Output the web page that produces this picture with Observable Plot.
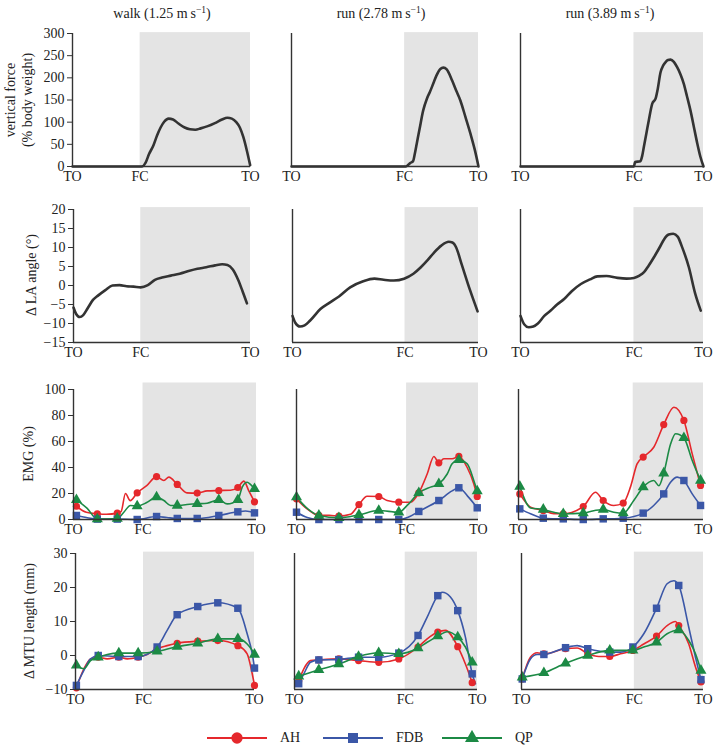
<!DOCTYPE html>
<html><head><meta charset="utf-8">
<script src="https://cdn.jsdelivr.net/npm/d3@7"></script>
<script src="https://cdn.jsdelivr.net/npm/@observablehq/plot@0.6"></script>
<style>
body{margin:0;background:#fff;}
#wrap{position:relative;width:715px;height:747px;font-family:"Liberation Serif","Times New Roman",serif;color:#222;overflow:hidden;}
.title{position:absolute;top:5px;font-size:14px;line-height:18px;transform:translateX(-50%);white-space:nowrap;}
.title sup{font-size:9.5px;vertical-align:5px;line-height:0;}
.ylab{position:absolute;font-size:14px;line-height:17px;transform:translate(-50%,-50%) rotate(-90deg);white-space:nowrap;text-align:center;}
.leg{position:absolute;top:729px;height:18px;display:flex;align-items:center;font-size:14px;}
.leg svg{margin-right:13px;}
</style></head>
<body><div id="wrap"></div>
<script>
// ---------- categories & labels ----------
const conditions = ["walk", "run", "run"];
const speeds = ["1.25", "2.78", "3.89"];
const fcPct = [38, 60.5, 62];                // foot contact, % of cycle
const xTickLabels = ["TO", "FC", "TO"];
const rowLabels = [["vertical force", "(% body weight)"], ["Δ LA angle (°)"], ["EMG (%)"], ["Δ MTU length (mm)"]];
const muscles = ["AH", "FDB", "QP"];
const forceTicks = [0, 50, 100, 150, 200, 250, 300];
const laTicks = [-15, -10, -5, 0, 5, 10, 15, 20];
const emgTicks = [0, 20, 40, 60, 80, 100];
const mtuTicks = [-10, 0, 10, 20, 30];

// ---------- vertical force (% body weight) ----------
const forceWalk = [[0,0],[38,0],[39.5,0.5],[41,8],[43,28],[45.5,48],[47.5,70],[49.5,88],[51.5,101],[54,108],[56.5,106],[59.5,97],[63,88],[66,84],[69,83],[72,86],[76,91],[80,98],[84,106],[87,110],[89.5,108],[92,100],[94,88],[96,66],[98,35],[99.8,3]];
const forceRun278 = [[0,0],[61,0],[62,2],[63.5,8],[65,12],[66,30],[67,52],[68.5,85],[70.4,126],[72.4,153],[74,168],[75.8,187],[77.5,205],[79.6,220],[81.2,223],[83,219],[85.9,194],[88,172],[90.3,149],[93,112],[95.7,74],[98,38],[100,0]];
const forceRun389 = [[0,0],[62,0],[62.6,10],[65.5,12],[66.5,24],[67.4,44],[68.8,75],[70.1,104],[72,142],[73.8,153],[75,175],[76.5,212],[78,228],[79.2,235],[80.6,240],[82,241],[83.8,236],[85.6,224],[87.5,207],[89.2,187],[91,158],[92.9,126],[94.8,88],[96.6,52],[98.3,22],[100,0]];

// ---------- LA angle (deg) ----------
const laWalk = [[0,-5.8],[1.5,-7.5],[3.5,-8.3],[5.5,-7.8],[8,-6],[11,-3.8],[14,-2.6],[18,-1.2],[22,0],[26,0.1],[30,-0.2],[34,-0.3],[38,-0.5],[42,0.1],[46,1.5],[50,2.1],[55,2.6],[60,3.1],[65,3.8],[70,4.4],[75,4.8],[80,5.3],[84,5.6],[87,5.4],[90,4.2],[93,1.5],[95.5,-1.5],[98,-4.7]];
const laRun278 = [[0,-8],[1.5,-9.8],[4,-10.8],[6.5,-10.5],[9.5,-9.2],[15,-6.2],[20,-4.5],[25,-2.9],[31,-0.5],[38,1.1],[44,1.8],[49,1.5],[54.5,1.3],[60,1.8],[65,3.1],[69,4.8],[72.5,6.6],[76,8.6],[80,10.5],[84,11.5],[86,11.3],[88,10],[91,5.5],[95.5,-1.3],[99.5,-6.8]];
const laRun389 = [[0,-8],[2,-10.2],[4.5,-11],[7,-10.8],[9.5,-10],[13,-8],[16.5,-6.6],[20,-5],[24,-3.5],[28,-1.5],[33,0.4],[38,1.6],[42,2.4],[47,2.5],[53,2],[58,1.8],[62,2],[65,2.6],[67.5,3.5],[70,5.2],[73,7.5],[76,10],[78.5,12.2],[81,13.4],[83.5,13.6],[86,12.8],[88,10.5],[92,4.8],[95.5,-2.2],[98.5,-6.6]];

// ---------- EMG (%) : marked samples + in-between points ----------
const emgWalkX = [1.6, 13, 23.9, 34.8, 45.4, 56.7, 67.6, 79.4, 89.8, 98.9];
const emgWalkAH = [10.2, 4.4, 4.9, 20.5, 33, 27, 20.3, 22.3, 24.6, 13.6];
const emgWalkAHmid = [[7,5.5],[18,4],[26,6],[28.4,20],[31,14.5],[40,26],[49.4,30],[52.1,32.6],[62,20.5],[73,22],[85.8,22.5],[93.1,29.5],[95.8,22]];
const emgWalkFDB = [3.1, 0.3, 0.3, 0, 2.3, 0.8, 0.8, 3.1, 5.9, 5.1];
const emgWalkFDBmid = [[7,1.5],[51,1.5],[62,0.8],[94,6.5]];
const emgWalkQP = [15.1, 0.3, 0.8, 10.3, 17.2, 10.8, 12.1, 15.1, 15.1, 23.6];
const emgWalkQPmid = [[7.5,8.5],[27.5,5.6],[31.1,10.8],[40,13],[49.4,14.6],[53,10.8],[62,11.5],[73,12.5],[84,12],[92.2,24.9],[94.9,28.7],[96.7,27]];

const emgRun278X = [0, 12.3, 23.3, 34.3, 45.2, 56.2, 67.2, 78.2, 89.2, 99.3];
const emgRun278AH = [15.9, 3.1, 2.6, 11.5, 17.7, 13.3, 20.5, 43.6, 48.5, 17.7];
const emgRun278AHmid = [[6,8],[18,3.2],[29.7,4],[38.8,17.9],[49.8,14.6],[62.6,13.3],[71.8,35],[75.5,48.5],[80.9,46.7],[85.5,46.7],[93.8,40],[97.4,27.4]];
const emgRun278FDB = [5.6, 0, 0, 0, 0, 0, 6.2, 14.6, 24.4, 9];
const emgRun278FDBmid = [[5.9,1.5],[61,1.5],[85.5,22],[94,18]];
const emgRun278QP = [17.2, 3.1, 1.3, 3.6, 6.9, 5.6, 20.5, 27.4, 45.9, 21.8];
const emgRun278QPmid = [[5.9,8.5],[60.8,10.8],[73.6,24.9],[82.8,35],[85.5,42.8],[93.8,42.8],[97.4,30]];

const emgRun389X = [0.7, 13.4, 24.2, 35, 45.8, 56.6, 67.4, 78.5, 89.4, 98.4];
const emgRun389AH = [19.7, 6.9, 4.4, 10, 14.6, 12.6, 48, 73, 76.2, 26.2];
const emgRun389AHmid = [[6.5,9.5],[19.1,4.5],[41.6,21],[51.5,10.8],[60.5,24.9],[64.1,42.8],[73.1,55.6],[84,86.4],[93.9,50.5]];
const emgRun389FDB = [8.2, 1, 0.5, 0, 0.5, 1, 4.9, 19.7, 30, 10.8];
const emgRun389FDBmid = [[6.5,4.4],[73.1,10.8],[82.2,28.7],[85.8,32.6],[93.9,19.7]];
const emgRun389QP = [25.4, 7.7, 4.4, 4.9, 7.7, 4.9, 24.9, 35.6, 62.8, 30];
const emgRun389QPmid = [[6.5,8.9],[19.1,5.6],[38.9,6.2],[51.5,5.6],[62.3,14.6],[73.1,30],[75.9,26],[82.2,58],[84.9,66],[93.9,45.4]];

// ---------- MTU length (mm) ----------
const mtuWalkX = [0.5, 12.7, 24.2, 35, 45.6, 56.8, 68.3, 79.5, 90.7, 100];
const mtuWalkAH = [-9.5, -0.5, -0.5, -0.5, 2, 3.6, 4.2, 4.4, 2.9, -8.8];
const mtuWalkAHmid = [[4.7,-3.9],[8.4,-1],[17.7,-1],[28.9,-1],[40,0.3],[51.2,2.9],[95.9,0.5],[98.7,-5.3]];
const mtuWalkFDB = [-8.8, 0, -0.3, -0.3, 2.5, 12, 14.4, 15.5, 13.9, -3.7];
const mtuWalkFDBmid = [[4.7,-4.4],[8.4,-1],[51.2,7.4],[95.9,6.4],[98.7,0.6]];
const mtuWalkQP = [-2.9, -0.5, 0.7, 0.7, 1.2, 2.6, 3.6, 4.9, 4.9, 0.3];
const mtuWalkQPmid = [[4.7,-3.9],[8.4,-1.5],[17.7,0.3],[95.9,3.4],[98.7,1.5]];

const mtuRun278X = [2.3, 13.3, 24.2, 35, 46, 57, 67.5, 78.3, 89.2, 97.1];
const mtuRun278AH = [-7.5, -1.3, -1, -1.5, -2, -1, 2.5, 6.9, 2.6, -8];
const mtuRun278AHmid = [[5.1,-3.9],[8.7,-1.5],[72.5,4.9],[82.5,7.4],[93.4,-2.5]];
const mtuRun278FDB = [-8.3, -1.3, -1.2, -0.5, -0.5, 0.7, 5.9, 17.6, 13.2, -5.4];
const mtuRun278FDBmid = [[5.1,-5.4],[8.7,-2],[72.5,11.3],[80.7,18.6],[85.2,17.2],[93.4,5.4],[98.9,-8.3]];
const mtuRun278QP = [-6.1, -4.2, -2.5, -0.3, 0.8, 0.5, 2.2, 5.7, 5.4, -2];
const mtuRun278QPmid = [[72.5,3.9],[83.4,7],[93.4,2.5]];

const mtuRun389X = [0.4, 12.3, 24.2, 36.4, 48.5, 61.2, 74.2, 86.4, 98.6];
const mtuRun389AH = [-6.9, 0.5, 2, 0.5, -0.3, 1.5, 5.7, 8.8, -7.8];
const mtuRun389AHmid = [[4.9,-0.5],[8.6,0.8],[30.6,2.2],[42.5,-0.3],[54.4,0.5],[67.2,3.4],[80,8.8],[84.6,10],[91.9,3.4],[95.6,-3.4]];
const mtuRun389FDB = [-6.9, 0.3, 2.3, 2, 1, 2.5, 13.9, 20.6, -7.1];
const mtuRun389FDBmid = [[4.9,-1],[8.6,0.3],[30.6,2.9],[54.4,1],[67.2,6.4],[80,21.1],[83.7,22],[91.9,8.3],[95.6,-0.5]];
const mtuRun389QP = [-6.4, -5.1, -2.3, 0, 1.5, 1.5, 3.9, 7.5, -4.4];
const mtuRun389QPmid = [[67.2,2.5],[80,6.4],[91.9,4.4],[95.6,0.5]];

// ---------- styling / layout ----------
const muscleColor = {AH: "#e5282c", FDB: "#3b57a7", QP: "#1c8a45"};
const muscleSymbol = {AH: "circle", FDB: "square", QP: "triangle"};
const muscleR = {AH: 3.6, FDB: 4.2, QP: 4.1};
const W = 715, H = 747;
const rowsCfg = [
  {domain: [0, 300], ticks: forceTicks, shadeTop: 302, top: 33, bottom: 166, cols: [[72, 250], [291, 478], [520, 703]]},
  {domain: [-15, 20], ticks: laTicks, shadeTop: 20.5, top: 209, bottom: 342, cols: [[73, 250], [292, 478], [520, 703]]},
  {domain: [0, 100], ticks: emgTicks, shadeTop: 105, top: 389, bottom: 519, cols: [[73, 256], [296, 478], [518, 703]]},
  {domain: [-10, 30], ticks: mtuTicks, shadeTop: 30.4, top: 553, bottom: 689, cols: [[75, 254], [294, 477], [521, 703]]}
];
const minus = d => d < 0 ? "\u2212" + Math.abs(d) : String(d);

function series(xs, ys, mid) {
  const pts = xs.map((x, i) => [x, ys[i]]);
  return {pts, line: [...pts, ...mid].sort((a, b) => a[0] - b[0])};
}
const emgSets = [
  {AH: series(emgWalkX, emgWalkAH, emgWalkAHmid), FDB: series(emgWalkX, emgWalkFDB, emgWalkFDBmid), QP: series(emgWalkX, emgWalkQP, emgWalkQPmid)},
  {AH: series(emgRun278X, emgRun278AH, emgRun278AHmid), FDB: series(emgRun278X, emgRun278FDB, emgRun278FDBmid), QP: series(emgRun278X, emgRun278QP, emgRun278QPmid)},
  {AH: series(emgRun389X, emgRun389AH, emgRun389AHmid), FDB: series(emgRun389X, emgRun389FDB, emgRun389FDBmid), QP: series(emgRun389X, emgRun389QP, emgRun389QPmid)}
];
const mtuSets = [
  {AH: series(mtuWalkX, mtuWalkAH, mtuWalkAHmid), FDB: series(mtuWalkX, mtuWalkFDB, mtuWalkFDBmid), QP: series(mtuWalkX, mtuWalkQP, mtuWalkQPmid)},
  {AH: series(mtuRun278X, mtuRun278AH, mtuRun278AHmid), FDB: series(mtuRun278X, mtuRun278FDB, mtuRun278FDBmid), QP: series(mtuRun278X, mtuRun278QP, mtuRun278QPmid)},
  {AH: series(mtuRun389X, mtuRun389AH, mtuRun389AHmid), FDB: series(mtuRun389X, mtuRun389FDB, mtuRun389FDBmid), QP: series(mtuRun389X, mtuRun389QP, mtuRun389QPmid)}
];
const forceSets = [forceWalk, forceRun278, forceRun389];
const laSets = [laWalk, laRun278, laRun389];

const wrap = document.getElementById("wrap");

function panel(r, c, dataMarks) {
  const g = rowsCfg[r];
  const [L, R] = g.cols[c];
  const fc = fcPct[c];
  const [y0, y1] = g.domain;
  const xt = [0, fc, 100];
  const marks = [
    Plot.rect([{x1: fc, x2: 100, y1: y0, y2: g.shadeTop}], {x1: "x1", x2: "x2", y1: "y1", y2: "y2", fill: "#e4e4e4"}),
    ...dataMarks,
    Plot.ruleX([0], {y1: y0, y2: y1, stroke: "#333", strokeWidth: 1.4}),
    Plot.ruleY([y0], {x1: 0, x2: 100, stroke: "#333", strokeWidth: 1.6}),
    Plot.axisX({ticks: xt, tickFormat: d => xTickLabels[xt.indexOf(d)], tickSize: 0, tickPadding: 5, label: null, fontSize: 14})
  ];
  if (c === 0) marks.push(Plot.axisY({ticks: g.ticks, tickFormat: minus, tickSize: 5, tickPadding: 3, label: null, fontSize: 14, stroke: "#333"}));
  const svg = Plot.plot({
    width: W, height: H,
    marginLeft: L, marginRight: W - R, marginTop: g.top, marginBottom: H - g.bottom,
    x: {domain: [0, 100]},
    y: c === 0 ? {domain: g.domain} : {domain: g.domain, axis: null},
    style: "background:transparent;overflow:visible;font-family:'Liberation Serif','Times New Roman',serif;font-size:14px;color:#222;position:absolute;left:0;top:0;",
    marks
  });
  wrap.appendChild(svg);
}

const curve = "monotone-x";
for (let c = 0; c < 3; c++) {
  panel(0, c, [Plot.line(forceSets[c], {x: d => d[0], y: d => d[1], curve, stroke: "#333", strokeWidth: 2.6})]);
  panel(1, c, [Plot.line(laSets[c], {x: d => d[0], y: d => d[1], curve, stroke: "#333", strokeWidth: 2.6})]);
  for (const [r, sets] of [[2, emgSets], [3, mtuSets]]) {
    const m = [];
    for (const mu of muscles) m.push(Plot.line(sets[c][mu].line, {x: d => d[0], y: d => d[1], curve, stroke: muscleColor[mu], strokeWidth: 1.6}));
    for (const mu of muscles) m.push(Plot.dot(sets[c][mu].pts, {x: d => d[0], y: d => d[1], symbol: muscleSymbol[mu], fill: muscleColor[mu], r: muscleR[mu], stroke: "none"}));
    panel(r, c, m);
  }
}

// column titles
const titleX = [162, 381, 610];
conditions.forEach((cond, i) => {
  const d = document.createElement("div");
  d.className = "title";
  d.style.left = titleX[i] + "px";
  d.innerHTML = `${cond} (${speeds[i]} m\u2009s<sup>\u22121</sup>)`;
  wrap.appendChild(d);
});

// row labels
const ylabPos = [[19, 100], [31, 275], [28, 454], [29, 621]];
rowLabels.forEach((lines, i) => {
  const d = document.createElement("div");
  d.className = "ylab";
  d.style.left = ylabPos[i][0] + "px";
  d.style.top = ylabPos[i][1] + "px";
  d.innerHTML = lines.join("<br>");
  wrap.appendChild(d);
});

// legend
const legLeft = [207, 323, 442];
const symType = {AH: d3.symbolCircle, FDB: d3.symbolSquare, QP: d3.symbolTriangle};
const symSize = {AH: 100, FDB: 100, QP: 85};
muscles.forEach((mu, i) => {
  const item = document.createElement("div");
  item.className = "leg";
  item.style.left = legLeft[i] + "px";
  const sw = d3.create("svg").attr("width", 60).attr("height", 16);
  sw.append("line").attr("x1", 0).attr("x2", 60).attr("y1", 8).attr("y2", 8).attr("stroke", muscleColor[mu]).attr("stroke-width", 2);
  sw.append("path").attr("transform", "translate(30,8)").attr("d", d3.symbol(symType[mu], symSize[mu])()).attr("fill", muscleColor[mu]);
  item.appendChild(sw.node());
  const t = document.createElement("span");
  t.textContent = mu;
  item.appendChild(t);
  wrap.appendChild(item);
});
</script>
</body></html>
